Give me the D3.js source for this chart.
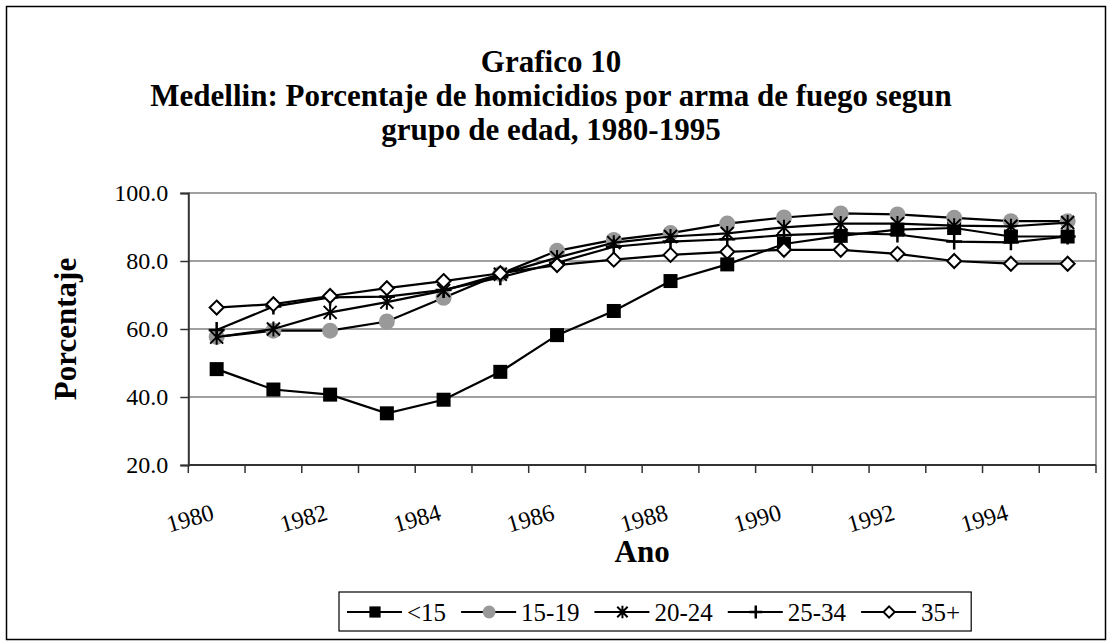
<!DOCTYPE html>
<html>
<head>
<meta charset="utf-8">
<script src="https://cdn.jsdelivr.net/npm/d3@7"></script>
<style>
  body { margin: 0; background: #fff; }
  svg { display: block; font-family: "Liberation Serif", "Times New Roman", serif; }
</style>
</head>
<body>
<div id="chart"></div>
<script>
// datos
const years = d3.range(1980, 1996);
const yTicks = [20, 40, 60, 80, 100];
const seriesNames = ['<15', '15-19', '20-24', '25-34', '35+'];
const menor15 = [48.2, 42.2, 40.7, 35.2, 39.2, 47.4, 58.2, 65.3, 74.1, 79.0, 85.0, 87.4, 89.2, 89.7, 87.2, 87.2];
const g15a19 = [57.7, 59.5, 59.5, 62.2, 69.2, 76.2, 83.0, 86.2, 88.2, 91.0, 92.8, 94.0, 93.7, 92.7, 91.7, 91.7];
const g20a24 = [57.6, 60.0, 64.9, 67.9, 71.3, 76.1, 81.0, 85.4, 87.2, 88.1, 89.9, 91.0, 91.0, 90.4, 90.2, 91.3];
const g25a34 = [59.7, 66.6, 69.3, 69.5, 71.5, 75.2, 79.5, 84.2, 85.7, 86.4, 87.6, 88.2, 87.8, 85.7, 85.5, 87.2];
const g35mas = [66.3, 67.3, 69.7, 72.0, 74.1, 76.4, 78.8, 80.4, 81.8, 82.7, 83.3, 83.3, 82.1, 80.0, 79.2, 79.2];

const W = 1107, H = 641;
const series = [
  { name: seriesNames[0], values: menor15, marker: 'square' },
  { name: seriesNames[1], values: g15a19, marker: 'circle' },
  { name: seriesNames[2], values: g20a24, marker: 'star' },
  { name: seriesNames[3], values: g25a34, marker: 'plus' },
  { name: seriesNames[4], values: g35mas, marker: 'diamond' }
];

const svg = d3.select('#chart').append('svg')
  .attr('width', W).attr('height', H);

// marco exterior
svg.append('rect')
  .attr('x', 6.5).attr('y', 6.5).attr('width', W - 8).attr('height', H - 8)
  .attr('fill', 'none').attr('stroke', '#000').attr('stroke-width', 1.5);

// titulo
const titleLines = ['Grafico 10', 'Medellin: Porcentaje de homicidios por arma de fuego segun', 'grupo de edad, 1980-1995'];
svg.append('g').selectAll('text')
  .data(titleLines)
  .join('text')
  .attr('x', 551).attr('y', (d, i) => 72 + i * 34)
  .attr('text-anchor', 'middle')
  .style('font-size', '31px').style('font-weight', 'bold')
  .text(d => d);

const x = d3.scaleBand().domain(years).range([188.3, 1096]);
const y = d3.scaleLinear().domain([20, 100]).range([465, 193]);

// rejilla
svg.append('g').selectAll('line')
  .data(yTicks.filter(d => d > 20))
  .join('line')
  .attr('x1', x.range()[0]).attr('x2', x.range()[1])
  .attr('y1', d => y(d)).attr('y2', d => y(d))
  .attr('stroke', '#808080').attr('stroke-width', 1.5);

// borde derecho
svg.append('line')
  .attr('x1', x.range()[1]).attr('x2', x.range()[1])
  .attr('y1', y(100)).attr('y2', y(20))
  .attr('stroke', '#808080').attr('stroke-width', 1.5);

// eje Y
const yAxis = svg.append('g')
  .attr('transform', `translate(${x.range()[0]},0)`)
  .call(d3.axisLeft(y).tickValues(yTicks).tickFormat(d3.format('.1f')).tickSize(8).tickPadding(12));
yAxis.select('.domain').attr('stroke', '#333').attr('stroke-width', 2);
yAxis.selectAll('.tick line').attr('stroke', '#333').attr('stroke-width', 1.5);
yAxis.selectAll('.tick text')
  .style('font-family', '"Liberation Serif", serif').style('font-size', '24px').attr('fill', '#000');

// eje X
const xEdges = years.map(d => x(d)).concat([x.range()[1]]);
const xAxis = svg.append('g');
xAxis.append('line')
  .attr('x1', x.range()[0]).attr('x2', x.range()[1])
  .attr('y1', y(20)).attr('y2', y(20))
  .attr('stroke', '#333').attr('stroke-width', 2);
xAxis.selectAll('.xt')
  .data(xEdges)
  .join('line')
  .attr('class', 'xt')
  .attr('x1', d => d).attr('x2', d => d)
  .attr('y1', y(20)).attr('y2', y(20) + 8)
  .attr('stroke', '#333').attr('stroke-width', 1.5);
xAxis.selectAll('.xl')
  .data(years.filter((d, i) => i % 2 === 0))
  .join('text')
  .attr('class', 'xl')
  .attr('transform', d => `translate(${x(d) + x.bandwidth() / 2 - 6},${y(20) + 38}) rotate(-16)`)
  .attr('text-anchor', 'end')
  .attr('dy', '0.71em')
  .style('font-size', '24px')
  .text(d => d);

// titulos de ejes
svg.append('text')
  .attr('x', (x.range()[0] + x.range()[1]) / 2).attr('y', 562)
  .attr('text-anchor', 'middle')
  .style('font-size', '31px').style('font-weight', 'bold')
  .text('Ano');
svg.append('text')
  .attr('transform', `translate(76,${(y(20) + y(100)) / 2}) rotate(-90)`)
  .attr('text-anchor', 'middle')
  .style('font-size', '31px').style('font-weight', 'bold')
  .text('Porcentaje');

// marcadores
function drawMarker(sel, type, s) {
  if (type === 'square') {
    sel.append('rect').attr('x', -7 * s).attr('y', -7 * s).attr('width', 14 * s).attr('height', 14 * s)
      .attr('fill', '#000');
  } else if (type === 'circle') {
    sel.append('circle').attr('r', 8 * s).attr('fill', '#999');
  } else if (type === 'star') {
    const a = 6.5 * s;
    sel.append('path').attr('d', `M${-a},${-a}L${a},${a}M${-a},${a}L${a},${-a}M0,${-a - 1}L0,${a + 1}`)
      .attr('stroke', '#000').attr('stroke-width', 2).attr('fill', 'none');
  } else if (type === 'plus') {
    const a = 8 * s;
    sel.append('path').attr('d', `M${-a},0L${a},0M0,${-a}L0,${a}`)
      .attr('stroke', '#000').attr('stroke-width', 2.5).attr('fill', 'none');
  } else if (type === 'diamond') {
    const a = 7 * s;
    sel.append('path').attr('d', `M0,${-a}L${a},0L0,${a}L${-a},0Z`)
      .attr('stroke', '#000').attr('stroke-width', 2).attr('fill', '#fff');
  }
}

const line = d3.line()
  .x((d, i) => x(years[i]) + x.bandwidth() / 2)
  .y(d => y(d));

series.forEach(s => {
  const g = svg.append('g');
  g.append('path')
    .attr('d', line(s.values))
    .attr('fill', 'none').attr('stroke', '#000').attr('stroke-width', 2.2);
  g.selectAll('g')
    .data(s.values)
    .join('g')
    .attr('transform', (d, i) => `translate(${x(years[i]) + x.bandwidth() / 2},${y(d)})`)
    .each(function () { drawMarker(d3.select(this), s.marker, 1); });
});

// leyenda
const legend = svg.append('g');
const legendBox = legend.append('rect')
  .attr('y', 592).attr('height', 39)
  .attr('fill', '#fff').attr('stroke', '#000').attr('stroke-width', 1.2);
let lx = 347;
series.forEach(s => {
  const item = legend.append('g').attr('transform', `translate(${lx},612)`);
  item.append('line').attr('x1', 0).attr('x2', 55).attr('stroke', '#000').attr('stroke-width', 2);
  drawMarker(item.append('g').attr('transform', 'translate(28,0)'), s.marker, 0.8);
  const t = item.append('text').attr('x', 60).attr('dy', '0.35em')
    .style('font-size', '25px').text(s.name);
  lx += 60 + t.node().getComputedTextLength() + 15;
});
legendBox.attr('x', 339).attr('width', lx - 339 - 4);
</script>
</body>
</html>
